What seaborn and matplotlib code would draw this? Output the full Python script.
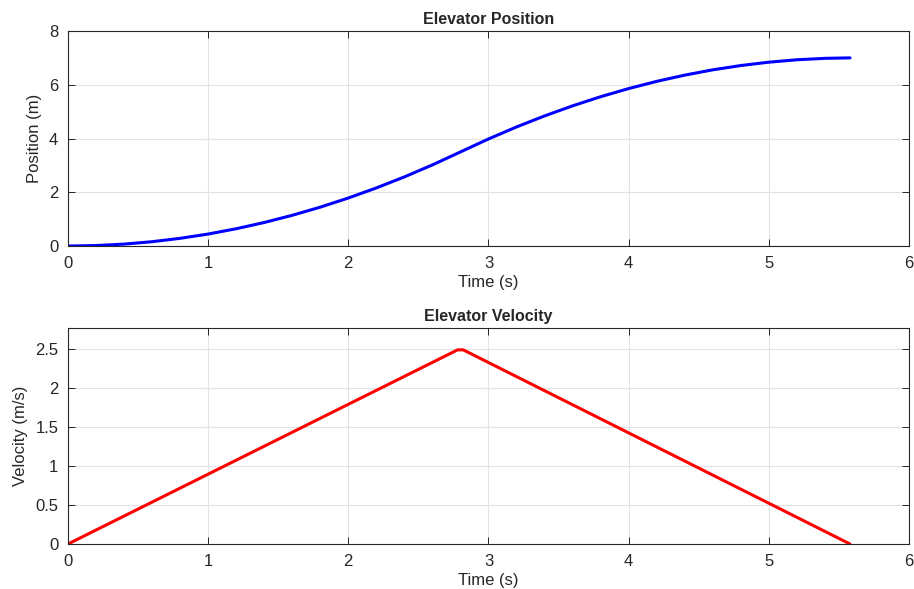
import numpy as np
import pandas as pd
import seaborn as sns
import matplotlib.pyplot as plt

# time samples (s) and values
tempo = [0.0, 0.2, 0.4, 0.6, 0.8, 1.0, 1.2, 1.4, 1.6, 1.8, 2.0, 2.2, 2.4, 2.6, 2.8,
         3.0, 3.2, 3.4, 3.6, 3.8, 4.0, 4.2, 4.4, 4.6, 4.8, 5.0, 5.2, 5.4, 5.58]
posicao = [0.0, 0.018, 0.071, 0.161, 0.286, 0.446, 0.643, 0.875, 1.143, 1.446, 1.786,
           2.161, 2.571, 3.018, 3.5, 3.982, 4.429, 4.839, 5.214, 5.554, 5.857, 6.125,
           6.357, 6.554, 6.714, 6.839, 6.929, 6.982, 7.0]

tempo_vel = [0.0, 2.78, 2.82, 5.58]
velocidade = [0.0, 2.49, 2.49, 0.0]

sns.set_theme(style="whitegrid")
plt.rcParams['font.family'] = ['Liberation Sans', 'DejaVu Sans']

fig = plt.figure(figsize=(9.14, 5.89), dpi=100)
ax1 = fig.add_axes([0.0744, 0.5823, 0.92, 0.3651])
ax2 = fig.add_axes([0.0744, 0.0764, 0.92, 0.3667])

tabela_pos = pd.DataFrame({"t": tempo, "pos": posicao})
tabela_vel = pd.DataFrame({"t": tempo_vel, "vel": velocidade})

sns.lineplot(data=tabela_pos, x="t", y="pos", ax=ax1, color="blue", linewidth=2.2)
sns.lineplot(data=tabela_vel, x="t", y="vel", ax=ax2, color="red", linewidth=2.2)

def estilo(ax, titulo, ylabel, yticks, ylim):
    ax.set_xlim(0, 6)
    ax.set_ylim(*ylim)
    ax.set_xticks(range(7))
    ax.set_yticks(yticks)
    ax.set_yticklabels([f"{v:g}" for v in yticks])
    ax.set_title(titulo, fontsize=11.5, fontweight="bold", pad=5)
    ax.set_xlabel("Time (s)", fontsize=12, labelpad=3)
    ax.set_ylabel(ylabel, fontsize=12, labelpad=5)
    ax.grid(True, color="#e2e2e2", linewidth=0.8)
    for s in ax.spines.values():
        s.set_color("#262626")
        s.set_linewidth(0.8)
    ax.tick_params(axis="y", pad=7)
    ax.tick_params(axis="x", pad=7)
    ax.tick_params(direction="in", length=5, width=0.7, color="#262626",
                   labelsize=12, labelcolor="#262626",
                   top=True, right=True, bottom=True, left=True)

estilo(ax1, "Elevator Position", "Position (m)", [0, 2, 4, 6, 8], (0, 8))
estilo(ax2, "Elevator Velocity", "Velocity (m/s)", [0, 0.5, 1, 1.5, 2, 2.5], (0, 2.77))

fig.savefig("out.png", dpi=100)
